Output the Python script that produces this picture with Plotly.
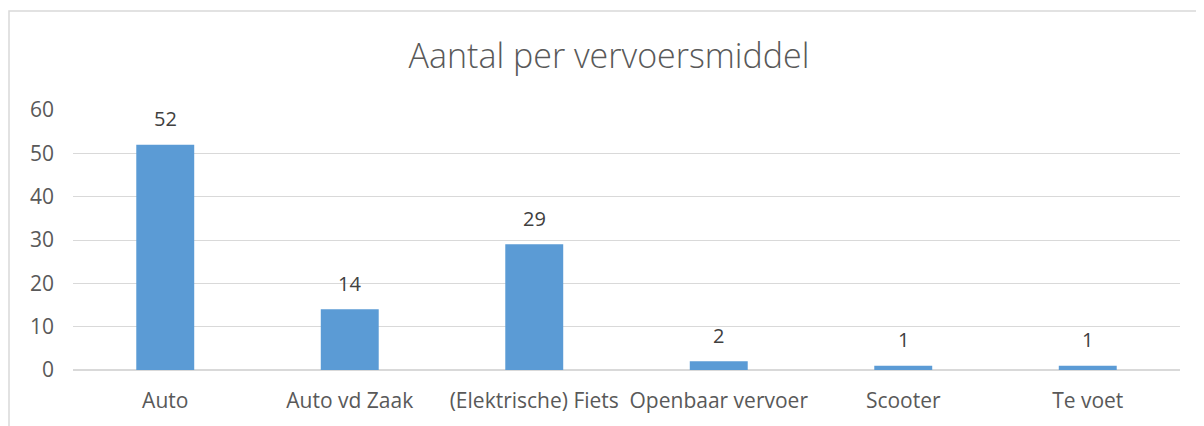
import plotly.graph_objects as go

categories = ["Auto", "Auto vd Zaak", "(Elektrische) Fiets", "Openbaar vervoer", "Scooter", "Te voet"]
values = [52, 14, 29, 2, 1, 1]
y_ticks = [0, 10, 20, 30, 40, 50, 60]
title_text = "Aantal per vervoersmiddel"

FONT = "Open Sans"
OFF = 8  # default page body margin
fig = go.Figure()
fig.add_trace(go.Bar(x=categories, y=values, marker=dict(color="#5B9BD5", line=dict(width=0)),
                     hoverinfo="x+y"))

for c, v in zip(categories, values):
    fig.add_annotation(x=c, y=v, text=str(v), showarrow=False, yanchor="middle", yshift=26,
                       font=dict(family=FONT, size=20, color="#404040"))

W, H = 1204 - OFF, 426 - OFF
L, T = 73 - OFF, 110 - OFF
R = W - (1180 - OFF)
B = H - (370 - OFF)
pw, ph = W - L - R, H - T - B

fig.add_shape(type="rect", xref="paper", yref="paper",
              x0=(9 - OFF - L) / pw, x1=1 + 60 / pw,
              y0=-(B + 40) / ph, y1=1 + (T - (11 - OFF)) / ph,
              line=dict(color="#D9D9D9", width=1.5), layer="below")

fig.update_layout(
    width=W, height=H,
    margin=dict(l=L, r=R, t=T, b=B),
    paper_bgcolor="white", plot_bgcolor="white",
    bargap=0.686,
    showlegend=False,
    title=dict(text=title_text, x=(609 - OFF) / W, xref="container", xanchor="center",
               y=1 - (56 - OFF) / H, yref="container", yanchor="middle",
               font=dict(family=FONT, size=34, color="#595959", weight=300)),
    xaxis=dict(showgrid=False, showline=False, zeroline=False, ticks="",
               tickfont=dict(family=FONT, size=21, color="#595959"),
               ticklabelstandoff=16),
    yaxis=dict(range=[0, 60], tickvals=y_ticks, showgrid=True, gridcolor="#D9D9D9", gridwidth=1.3,
               zeroline=True, zerolinecolor="#D9D9D9", zerolinewidth=1.5,
               showline=False, ticks="",
               tickfont=dict(family=FONT, size=21, color="#595959"),
               ticklabelstandoff=18),
)

fig.write_html("out.html")
